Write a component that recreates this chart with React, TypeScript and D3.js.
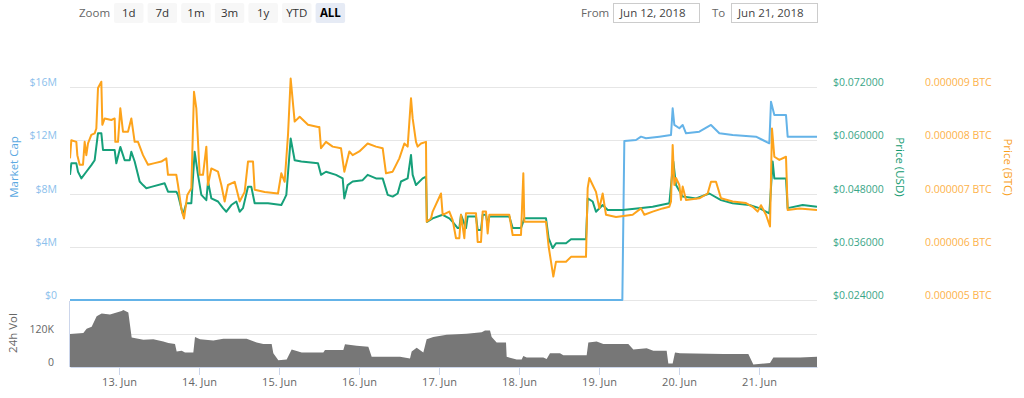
import * as d3 from "d3";
import { useEffect, useRef } from "react";

const FONT = "'Open Sans', 'DejaVu Sans', sans-serif";

// hours since 12 Jun 2018 00:00 UTC, value
const START = Date.UTC(2018, 5, 12);
const toDate = (h: number) => new Date(START + h * 3600e3);

const marketCapM: [number, number][] = [
  [9.3, 0], [175.0, 0], [175.6, 11.94], [179.1, 12.02], [180.6, 12.27], [182.1, 12.15],
  [186.1, 12.27], [189.6, 12.39], [190.1, 14.4], [190.6, 13.15], [192.1, 12.9], [193.1, 13.15],
  [194.1, 12.52], [198.1, 12.64], [201.6, 13.15], [204.1, 12.52], [208.1, 12.39], [215.1, 12.27],
  [217.1, 12.02], [219.1, 11.77], [219.6, 14.9], [220.6, 13.9], [224.1, 13.9], [224.6, 12.27],
  [233.4, 12.27],
];

const priceUsd: [number, number][] = [
  [9.3, 0.0522], [9.7, 0.0548], [11.2, 0.0548], [11.7, 0.0529], [12.7, 0.0514], [14.2, 0.0529],
  [15.7, 0.0544], [16.7, 0.0555], [17.7, 0.0616], [18.7, 0.0616], [19.2, 0.0578], [22.7, 0.0578],
  [23.2, 0.0548], [24.4, 0.0585], [25.7, 0.0555], [27.2, 0.0555], [27.7, 0.0574], [28.7, 0.0552],
  [30.2, 0.0507], [31.2, 0.0499], [32.2, 0.0492], [33.7, 0.0495], [37.7, 0.0503], [38.7, 0.0484],
  [41.2, 0.0484], [41.7, 0.0477], [42.7, 0.0447], [43.2, 0.0432], [44.2, 0.0458], [45.7, 0.0458],
  [46.7, 0.0574], [47.7, 0.0522], [48.7, 0.0477], [50.2, 0.0465], [50.7, 0.0507], [51.7, 0.0469],
  [53.7, 0.0462], [55.2, 0.0447], [56.2, 0.0439], [57.7, 0.0454], [59.2, 0.0462], [60.2, 0.0439],
  [61.2, 0.0447], [62.7, 0.0495], [63.7, 0.0495], [64.7, 0.0458], [68.7, 0.0458], [72.7, 0.0454],
  [73.7, 0.0469], [74.2, 0.0477], [75.5, 0.0604], [76.7, 0.0555], [78.7, 0.0552], [83.7, 0.0548],
  [84.6, 0.0522], [86.1, 0.0529], [89.1, 0.0522], [91.1, 0.0514], [91.6, 0.0469], [92.6, 0.0499],
  [94.1, 0.0507], [97.1, 0.051], [98.6, 0.0522], [101.1, 0.0514], [103.1, 0.0514], [104.6, 0.0477],
  [106.1, 0.0473], [107.6, 0.048], [108.6, 0.0507], [110.6, 0.0514], [111.6, 0.0567], [112.1, 0.0522],
  [113.1, 0.0499], [115.1, 0.0514], [116.1, 0.0518], [116.4, 0.0416], [118.1, 0.0424], [121.1, 0.0432],
  [123.1, 0.0424], [124.1, 0.0416], [125.6, 0.0402], [126.1, 0.0402], [126.6, 0.0432], [128.1, 0.0402],
  [128.6, 0.0428], [131.1, 0.0428], [131.6, 0.0398], [132.6, 0.0398], [133.1, 0.0432], [134.1, 0.0432],
  [134.6, 0.0409], [135.1, 0.0428], [141.1, 0.0428], [142.1, 0.0402], [144.6, 0.0402], [145.6, 0.0424],
  [152.1, 0.0424], [152.9, 0.0379], [154.1, 0.0357], [155.1, 0.0368], [158.1, 0.0368], [159.6, 0.0377],
  [164.1, 0.0377], [164.6, 0.0469], [166.1, 0.0462], [167.1, 0.0439], [169.1, 0.0454], [170.6, 0.0443],
  [175.1, 0.0443], [180.1, 0.0447], [184.1, 0.045], [189.1, 0.0458], [190.3, 0.0552], [191.1, 0.0499],
  [193.1, 0.0473], [197.1, 0.0469], [201.1, 0.048], [204.6, 0.0465], [208.1, 0.0458], [213.1, 0.0454],
  [216.1, 0.0447], [219.1, 0.0435], [220.1, 0.0552], [220.6, 0.0514], [224.1, 0.0514], [224.6, 0.0447],
  [229.1, 0.0454], [233.4, 0.045],
];

// price in millionths of a BTC
const priceBtcMicro: [number, number][] = [
  [9.3, 7.66], [9.7, 8.0], [11.2, 7.97], [11.5, 7.72], [12.2, 7.54], [13.2, 7.54], [13.7, 7.97],
  [14.2, 7.72], [14.7, 7.94], [15.7, 8.1], [16.7, 8.13], [17.2, 8.22], [17.7, 8.98], [18.7, 9.1],
  [19.0, 8.29], [19.7, 8.41], [21.7, 8.38], [22.7, 8.41], [22.9, 7.97], [23.7, 7.97], [24.4, 8.6],
  [25.2, 8.16], [26.7, 8.16], [27.7, 8.41], [28.7, 7.97], [29.7, 7.97], [31.2, 7.72], [32.7, 7.54],
  [34.7, 7.57], [36.7, 7.6], [38.2, 7.66], [38.7, 7.35], [41.2, 7.35], [41.7, 7.16], [42.7, 6.72],
  [43.5, 6.53], [44.5, 6.97], [45.7, 7.1], [46.5, 8.91], [47.2, 8.6], [48.2, 7.35], [49.2, 7.35],
  [50.2, 7.88], [50.7, 7.16], [51.7, 7.47], [53.7, 7.41], [54.7, 7.16], [55.7, 6.85], [56.7, 7.16],
  [58.7, 7.22], [60.2, 6.85], [61.7, 7.03], [62.7, 7.6], [64.2, 7.6], [64.7, 7.07], [67.7, 7.03],
  [71.7, 7.0], [72.7, 7.38], [73.7, 7.22], [74.7, 8.1], [75.5, 9.16], [76.7, 8.35], [78.2, 8.44],
  [80.7, 8.29], [83.7, 8.25], [84.1, 8.25], [84.6, 7.85], [86.1, 7.97], [88.1, 7.88], [90.6, 7.85],
  [91.6, 7.41], [93.1, 7.79], [94.1, 7.72], [96.1, 7.79], [98.6, 7.94], [101.1, 7.88], [103.1, 7.85],
  [104.1, 7.38], [106.1, 7.41], [108.1, 7.66], [109.6, 7.94], [110.6, 7.88], [111.6, 8.79],
  [112.1, 8.41], [113.1, 7.97], [113.6, 7.88], [114.6, 7.94], [116.1, 7.97], [116.3, 6.47],
  [117.6, 6.53], [118.1, 6.66], [120.6, 7.0], [121.1, 6.6], [123.1, 6.66], [124.1, 6.5], [125.1, 6.16],
  [126.1, 6.16], [126.6, 6.6], [127.6, 6.16], [128.1, 6.63], [131.1, 6.63], [131.6, 6.09],
  [132.6, 6.09], [133.1, 6.66], [134.1, 6.66], [134.6, 6.25], [135.1, 6.6], [141.1, 6.6],
  [142.1, 6.22], [144.6, 6.22], [145.3, 7.38], [145.6, 6.47], [152.1, 6.47], [152.9, 6.0],
  [154.3, 5.44], [155.1, 5.72], [158.1, 5.72], [159.6, 5.81], [164.1, 5.81], [164.6, 7.1],
  [165.1, 7.29], [166.1, 7.16], [167.1, 7.03], [168.1, 6.72], [169.1, 7.0], [170.1, 6.6], [173.1, 6.56],
  [178.1, 6.6], [180.6, 6.72], [181.6, 6.6], [184.1, 6.66], [187.1, 6.72], [189.1, 6.75], [189.6, 6.85],
  [190.1, 7.91], [190.6, 7.16], [191.1, 7.29], [192.1, 7.16], [192.6, 6.88], [193.1, 7.13],
  [194.1, 6.88], [198.1, 6.91], [200.6, 7.0], [201.6, 7.22], [203.1, 7.22], [204.6, 6.91], [208.1, 6.85],
  [212.1, 6.82], [214.1, 6.75], [215.6, 6.66], [216.6, 6.78], [218.1, 6.6], [219.3, 6.38], [219.9, 8.22],
  [220.6, 7.69], [222.1, 7.63], [224.1, 7.69], [224.6, 6.69], [228.1, 6.72], [233.4, 6.69],
];

// 24h volume in thousands of USD
const volumeK: [number, number][] = [
  [9.3, 120], [13.3, 124], [14.3, 139], [15.8, 146], [17.3, 185], [18.8, 195], [21.3, 191], [23.3, 198],
  [24.8, 204], [25.3, 207], [26.8, 198], [27.8, 107], [31.3, 99], [34.3, 101], [37.3, 93], [38.8, 87],
  [40.8, 84], [41.3, 56], [42.8, 59], [43.8, 53], [46.3, 53], [46.8, 109], [48.3, 101], [52.3, 96],
  [55.3, 103], [62.3, 103], [65.3, 89], [67.3, 84], [69.8, 84], [70.3, 50], [71.8, 25], [74.3, 27],
  [75.8, 64], [78.8, 53], [85.3, 53], [85.8, 62], [91.3, 62], [91.8, 83], [95.3, 77], [98.8, 74],
  [99.8, 37], [108.3, 37], [111.3, 31], [111.8, 56], [113.3, 70], [115.3, 53], [116.3, 101],
  [118.3, 109], [122.3, 117], [128.3, 121], [132.8, 126], [133.8, 133], [135.3, 133], [135.8, 109],
  [137.3, 89], [140.1, 89], [140.3, 37], [143.3, 27], [144.8, 27], [145.3, 40], [146.3, 35], [151.3, 35],
  [152.3, 29], [153.3, 50], [156.3, 50], [157.3, 43], [164.3, 43], [164.8, 89], [167.3, 93], [169.3, 84],
  [176.8, 84], [178.3, 64], [182.3, 68], [184.3, 59], [188.3, 59], [188.8, 13], [190.1, 13], [190.8, 53],
  [192.3, 50], [205.3, 47], [212.8, 47], [214.3, 9], [219.3, 15], [220.3, 35], [228.3, 35], [233.4, 37],
];

const capTicks = [0, 4, 8, 12, 16];
const usdTicks = [0.024, 0.036, 0.048, 0.06, 0.072];
const btcTicks = [5, 6, 7, 8, 9];
const volTicks = [0, 120];
const zoomButtons = ["1d", "7d", "1m", "3m", "1y", "YTD", "ALL"];
const fromDate = "Jun 12, 2018";
const toDateLabel = "Jun 21, 2018";

const C_CAP = "#64b3e8";
const C_USD = "#16a07a";
const C_BTC = "#fda31b";

function XAxis({ scale, y }: { scale: d3.ScaleTime<number, number>; y: number }) {
  const ref = useRef<SVGGElement>(null);
  useEffect(() => {
    if (ref.current) {
      const axis = d3
        .axisBottom(scale)
        .ticks(d3.utcDay.every(1) as any)
        .tickFormat(d3.utcFormat("%-d. %b") as any)
        .tickSize(8)
        .tickSizeOuter(0)
        .tickPadding(3);
      const g = d3.select(ref.current).call(axis as any);
      g.attr("font-family", FONT).attr("font-size", 11);
      g.select(".domain").attr("stroke", "#ccd6eb");
      g.selectAll(".tick line").attr("stroke", "#ccd6eb");
      g.selectAll(".tick text").attr("fill", "#666");
    }
  }, [scale]);
  return <g ref={ref} transform={`translate(0,${y})`} />;
}

export default function App() {
  const left = 70;
  const right = 817;
  const top = 87;
  const bottom = 300;
  const volTop = 301;
  const volBottom = 367;

  const x = d3.scaleUtc().domain([toDate(9.3), toDate(233.4)]).range([left, right]);
  const yCap = d3.scaleLinear().domain([0, 16]).range([bottom, top]);
  const yUsd = d3.scaleLinear().domain([0.024, 0.072]).range([bottom, top]);
  const yBtc = d3.scaleLinear().domain([5, 9]).range([bottom, top]);
  const yVol = d3.scaleLinear().domain([0, 240]).range([volBottom, volTop]);

  const lineOf = (ys: d3.ScaleLinear<number, number>) =>
    d3.line<[number, number]>().x((d) => x(toDate(d[0]))).y((d) => ys(d[1]));
  const volArea = d3
    .area<[number, number]>()
    .x((d) => x(toDate(d[0])))
    .y0(volBottom)
    .y1((d) => yVol(d[1]));

  const fmtUsd = (v: number) => "$" + v.toFixed(6);
  const fmtBtc = (v: number) => (v / 1e6).toFixed(6) + " BTC";

  return (
    <svg
      width={1024}
      height={398}
      style={{ position: "absolute", left: 0, top: 0, background: "#fff" }}
      fontFamily={FONT}
    >
      <defs>
        <clipPath id="plot">
          <rect x={left} y={top - 15} width={right - left} height={bottom - top + 18} />
        </clipPath>
      </defs>

      {/* range selector */}
      <text x={79} y={17} fontSize={11.5} fill="#666">Zoom</text>
      {zoomButtons.map((b, i) => {
        const bx = 114 + i * 33.6;
        const sel = b === "ALL";
        return (
          <g key={b}>
            <rect x={bx} y={3} width={29.5} height={20} rx={2} fill={sel ? "#e6ebf5" : "#f7f7f7"} />
            <text
              x={bx + 14.75}
              y={17}
              textAnchor="middle"
              fontSize={11.5}
              fontWeight={sel ? "bold" : "normal"}
              fill={sel ? "#000" : "#333"}
            >
              {b}
            </text>
          </g>
        );
      })}
      <text x={581} y={17} fontSize={11.5} fill="#666">From</text>
      <rect x={613.5} y={3.5} width={86} height={19} fill="#fff" stroke="#ccc" />
      <text x={620} y={17} fontSize={11.5} fill="#444">{fromDate}</text>
      <text x={712} y={17} fontSize={11.5} fill="#666">To</text>
      <rect x={731.5} y={3.5} width={86} height={19} fill="#fff" stroke="#ccc" />
      <text x={738} y={17} fontSize={11.5} fill="#444">{toDateLabel}</text>

      {/* grid */}
      {capTicks.map((t) => (
        <line key={t} x1={left} x2={right} y1={Math.round(yCap(t)) + 0.5} y2={Math.round(yCap(t)) + 0.5} stroke="#e6e6e6" />
      ))}
      <line x1={left} x2={right} y1={Math.round(yVol(120)) + 0.5} y2={Math.round(yVol(120)) + 0.5} stroke="#e6e6e6" />

      {/* left axis */}
      {capTicks.map((t) => (
        <text key={t} x={57} y={yCap(t) - 1} textAnchor="end" fontSize={10.5} fill="#8cc0ec">
          {"$" + t + (t ? "M" : "")}
        </text>
      ))}
      <text
        transform={`translate(18,167) rotate(-90)`}
        textAnchor="middle"
        fontSize={11.5}
        fill="#5ba9e2"
      >
        Market Cap
      </text>

      {/* right axes */}
      {usdTicks.map((t) => (
        <text key={t} x={833} y={yUsd(t) - 1} fontSize={10.5} fill="#3aa688">
          {fmtUsd(t)}
        </text>
      ))}
      <text transform={`translate(896,167) rotate(90)`} textAnchor="middle" fontSize={11.5} fill="#0f9a70">
        Price (USD)
      </text>
      {btcTicks.map((t) => (
        <text key={t} x={925} y={yBtc(t) - 1} fontSize={10.5} fill="#fdb24a">
          {fmtBtc(t)}
        </text>
      ))}
      <text transform={`translate(1004,167) rotate(90)`} textAnchor="middle" fontSize={11.5} fill="#f9a01b">
        Price (BTC)
      </text>

      {/* series */}
      <g clipPath="url(#plot)" fill="none" strokeWidth={2} strokeLinejoin="round">
        <path d={lineOf(yCap)(marketCapM) || ""} stroke={C_CAP} />
        <path d={lineOf(yUsd)(priceUsd) || ""} stroke={C_USD} />
        <path d={lineOf(yBtc)(priceBtcMicro) || ""} stroke={C_BTC} />
      </g>

      {/* volume panel */}
      <path d={volArea(volumeK) || ""} fill="#777" />
      <line x1={left - 0.5} x2={left - 0.5} y1={volTop} y2={volBottom} stroke="#ccd6eb" />
      {volTicks.map((t) => (
        <text key={t} x={54} y={yVol(t) - 1} textAnchor="end" fontSize={10.5} fill="#666">
          {t ? t + "K" : "0"}
        </text>
      ))}
      <text transform={`translate(17,333) rotate(-90)`} textAnchor="middle" fontSize={11.5} fill="#666">
        24h Vol
      </text>
      <XAxis scale={x} y={volBottom} />
    </svg>
  );
}
